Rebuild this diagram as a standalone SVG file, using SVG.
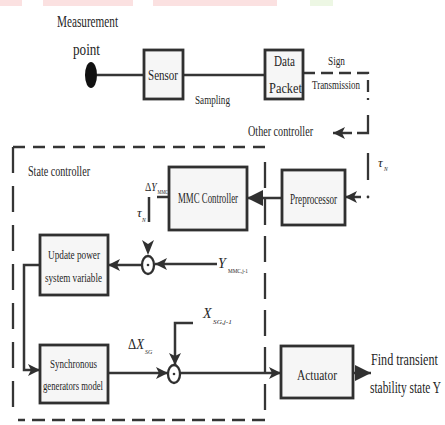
<svg xmlns="http://www.w3.org/2000/svg" width="445" height="425" viewBox="0 0 445 425">
  <style>
    text { font-family: "Liberation Serif", "Times New Roman", serif; fill: #262626; }
    .it { font-style: italic; }
    .box { fill: #f6f6f6; stroke: #303030; stroke-width: 2.8; }
    .ln { fill: none; stroke: #353535; stroke-width: 2.5; }
    .dash { fill: none; stroke: #353535; stroke-width: 2.3; }
    .sum { fill: #fff; stroke: #303030; stroke-width: 2.3; }
  </style>
  <defs>
    <marker id="arr" viewBox="0 0 12 12" refX="12" refY="6" markerWidth="12" markerHeight="12" markerUnits="userSpaceOnUse" orient="auto">
      <path d="M0,0 L12,6 L0,12 L3,6 Z" fill="#303030"/>
    </marker>
    <marker id="arrBig" viewBox="0 0 16 16" refX="16" refY="8" markerWidth="16" markerHeight="16" markerUnits="userSpaceOnUse" orient="auto">
      <path d="M0,0 L16,8 L0,16 Z" fill="#303030"/>
    </marker>
  </defs>

  <rect width="445" height="425" fill="#fff"/>

  <!-- faint banner strip along the top edge -->
  <g opacity="0.55">
    <rect x="0" y="0" width="22" height="6" fill="#f9caca"/>
    <rect x="43" y="0" width="90" height="6" fill="#f9caca"/>
    <rect x="153" y="0" width="124" height="6" fill="#f9caca"/>
    <rect x="310" y="0" width="23" height="6" fill="#dff2cf"/>
  </g>

  <!-- connectors -->
  <g id="connectors">
    <!-- acquisition chain -->
    <path class="ln" d="M97,75 H144"/>
    <path class="ln" d="M183,75 H265"/>
    <path class="dash" d="M303,73 H368 V100" stroke-dasharray="12 6"/>
    <path class="dash" d="M368,115 V133 H357"/>
    <path class="ln" d="M352,133 H333" marker-end="url(#arr)"/>
    <path class="dash" d="M368,153 V180"/>
    <circle cx="368" cy="197" r="1.4" fill="#333"/>
    <path class="ln" d="M361,197 H345" marker-end="url(#arr)"/>
    <path class="ln" d="M282,198 H247" marker-end="url(#arrBig)"/>

    <!-- state controller frame -->
    <path class="dash" d="M13,147 H265" stroke-dasharray="12 8"/>
    <path class="dash" d="M13,147 V413" stroke-dasharray="26 13"/>
    <path class="dash" d="M265,162 V420" stroke-dasharray="26 11"/>
    <path class="dash" d="M265,420 H18" stroke-dasharray="13 7"/>

    <!-- MMC branch -->
    <path class="ln" d="M169,197 H157"/>
    <path class="ln" d="M149,197 V222"/>
    <path d="M142,240 L148,244 L154,240 L148,255 Z" fill="#303030"/>
    <path class="ln" d="M217,264 H155" marker-end="url(#arr)"/>
    <path class="ln" d="M142,265 H108" marker-end="url(#arr)"/>
    <path class="ln" d="M40,265 H24 V370 H40" marker-end="url(#arr)"/>

    <!-- SG branch -->
    <path class="ln" d="M108,373 H168" marker-end="url(#arr)"/>
    <path class="ln" d="M193,323 H175 V365" marker-end="url(#arr)"/>
    <path class="ln" d="M180,373 H281" marker-end="url(#arr)"/>
    <path class="ln" d="M353,373 H371" marker-end="url(#arrBig)"/>
  </g>

  <g id="measurement-point">
    <ellipse cx="91" cy="75" rx="6" ry="13" fill="#111"/>
    <text x="57" y="27" font-size="16" textLength="61" lengthAdjust="spacingAndGlyphs">Measurement</text>
    <text x="73" y="55" font-size="16" textLength="27" lengthAdjust="spacingAndGlyphs">point</text>
  </g>

  <g id="sensor">
    <rect class="box" x="144" y="50" width="39" height="49"/>
    <text x="148" y="80" font-size="15" textLength="30" lengthAdjust="spacingAndGlyphs">Sensor</text>
  </g>

  <g id="sampling-label">
    <text x="195" y="104" font-size="13" textLength="35" lengthAdjust="spacingAndGlyphs">Sampling</text>
  </g>

  <g id="data-packet">
    <rect class="box" x="265" y="50" width="38" height="49"/>
    <text x="274" y="66" font-size="15" textLength="21" lengthAdjust="spacingAndGlyphs">Data</text>
    <text x="269" y="93" font-size="15" textLength="33" lengthAdjust="spacingAndGlyphs">Packet</text>
  </g>

  <g id="sign-transmission">
    <text x="328" y="65" font-size="13" textLength="17" lengthAdjust="spacingAndGlyphs">Sign</text>
    <text x="312" y="89" font-size="13" textLength="48" lengthAdjust="spacingAndGlyphs">Transmission</text>
  </g>

  <g id="other-controller">
    <text x="248" y="136" font-size="14" textLength="65" lengthAdjust="spacingAndGlyphs">Other controller</text>
  </g>

  <g id="tau-input">
    <text class="it" x="378" y="167" font-size="13">τ</text>
    <text class="it" x="384" y="171" font-size="5.5">N</text>
  </g>

  <g id="preprocessor">
    <rect class="box" x="282" y="170" width="63" height="55"/>
    <text x="290" y="204" font-size="14" textLength="47" lengthAdjust="spacingAndGlyphs">Preprocessor</text>
  </g>

  <g id="state-controller">
    <text x="28" y="176" font-size="14" textLength="62" lengthAdjust="spacingAndGlyphs">State controller</text>
  </g>

  <g id="mmc-controller">
    <rect class="box" x="169" y="167" width="78" height="63"/>
    <text x="178" y="203" font-size="14" textLength="60" lengthAdjust="spacingAndGlyphs">MMC Controller</text>
  </g>

  <g id="delta-y-mmc">
    <text transform="translate(145,191) scale(0.78,1)" font-size="13" textLength="15" lengthAdjust="spacingAndGlyphs">Δ<tspan class="it">Y</tspan></text>
    <text transform="translate(157.5,194) scale(0.8,1)" font-size="5.5" textLength="13.5" lengthAdjust="spacingAndGlyphs">MMC</text>
    <text class="it" x="137" y="217" font-size="13">τ</text>
    <text class="it" x="142" y="222" font-size="5.5">N</text>
  </g>

  <g id="sum-mmc">
    <ellipse class="sum" cx="148" cy="265" rx="6" ry="9"/>
    <circle cx="148" cy="265" r="1.3" fill="#333"/>
  </g>

  <g id="y-mmc-prev">
    <text class="it" x="218" y="268" font-size="14">Y</text>
    <text x="228" y="273" font-size="5.5" textLength="20" lengthAdjust="spacingAndGlyphs">MMC,j-1</text>
  </g>

  <g id="update-power">
    <rect class="box" x="40" y="235" width="68" height="60"/>
    <text x="48" y="259" font-size="13" textLength="52" lengthAdjust="spacingAndGlyphs">Update power</text>
    <text x="45" y="282" font-size="13" textLength="57" lengthAdjust="spacingAndGlyphs">system variable</text>
  </g>

  <g id="synchronous-generators">
    <rect class="box" x="40" y="345" width="68" height="58"/>
    <text x="50" y="368" font-size="13" textLength="47" lengthAdjust="spacingAndGlyphs">Synchronous</text>
    <text x="43" y="390" font-size="13" textLength="60" lengthAdjust="spacingAndGlyphs">generators model</text>
  </g>

  <g id="delta-x-sg">
    <text x="128" y="349" font-size="14" textLength="16" lengthAdjust="spacingAndGlyphs">Δ<tspan class="it">X</tspan></text>
    <text class="it" x="145" y="354" font-size="6">SG</text>
  </g>

  <g id="x-sg-prev">
    <text class="it" x="203" y="318" font-size="14">X</text>
    <text class="it" x="213" y="324" font-size="6" textLength="19" lengthAdjust="spacingAndGlyphs">SG,j-1</text>
  </g>

  <g id="sum-sg">
    <ellipse class="sum" cx="174" cy="374" rx="6" ry="9"/>
    <circle cx="174" cy="374" r="1.3" fill="#333"/>
  </g>

  <g id="actuator">
    <rect class="box" x="281" y="346" width="72" height="52"/>
    <text x="297" y="380" font-size="15" textLength="40" lengthAdjust="spacingAndGlyphs">Actuator</text>
  </g>

  <g id="transient-state">
    <text transform="translate(371,365) scale(0.76,1)" font-size="16" textLength="88" lengthAdjust="spacingAndGlyphs">Find transient</text>
    <text transform="translate(370,393) scale(0.71,1)" font-size="16" textLength="100" lengthAdjust="spacingAndGlyphs">stability state  Y</text>
  </g>
</svg>
